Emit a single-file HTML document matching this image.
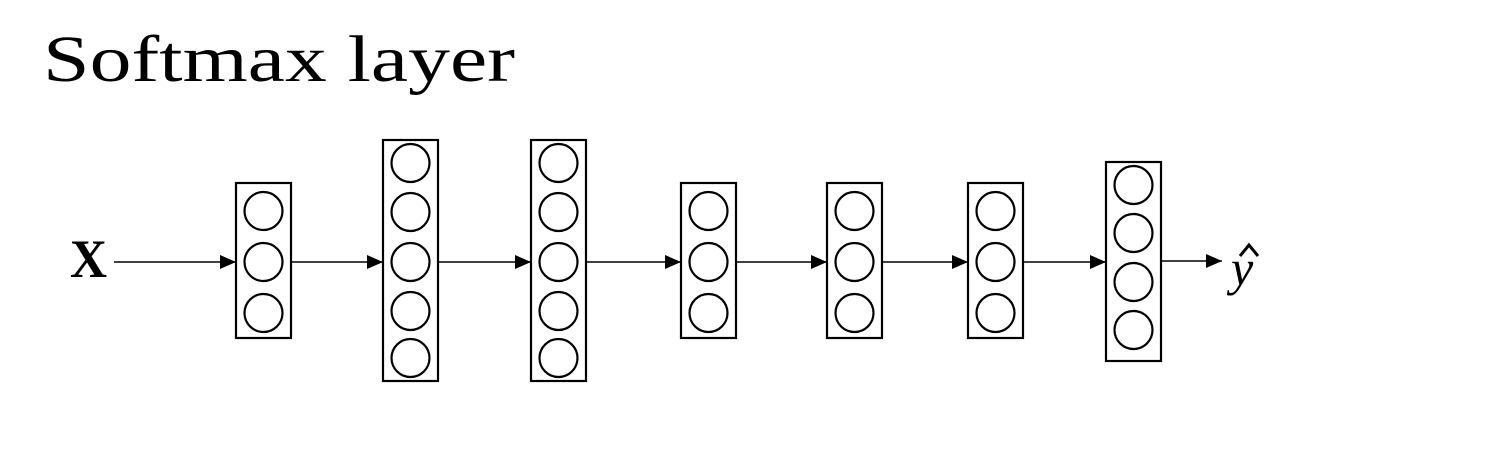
<!DOCTYPE html>
<html><head><meta charset="utf-8"><style>
html,body{margin:0;padding:0;background:#fff;}
svg{display:block;}
</style></head><body>
<svg width="1490" height="452" xmlns="http://www.w3.org/2000/svg">
<defs>
<marker id="ah" markerWidth="16" markerHeight="14" refX="16" refY="7" orient="auto" markerUnits="userSpaceOnUse">
<path d="M0,0 L16,7 L0,14 Z" fill="#000"/>
</marker>
</defs>
<text x="43" y="81" font-family="Liberation Serif, serif" font-size="66" textLength="472" lengthAdjust="spacingAndGlyphs">Softmax layer</text>
<text x="70" y="277" font-family="Liberation Serif, serif" font-size="54" font-weight="bold" textLength="37" lengthAdjust="spacingAndGlyphs">X</text>
<text x="1231" y="285" font-family="Liberation Serif, serif" font-size="50" font-style="italic">y</text>
<path d="M1240,256 L1249,245 L1258,256" stroke="#000" stroke-width="3" fill="none"/>
<g stroke="#000" stroke-width="2.2" fill="none">
<rect x="236" y="183" width="55" height="155"/>
<circle cx="263.5" cy="211" r="19"/><circle cx="263.5" cy="262" r="19"/><circle cx="263.5" cy="313" r="19"/>
<rect x="383" y="140" width="55" height="241"/>
<circle cx="410.5" cy="163" r="19"/><circle cx="410.5" cy="212" r="19"/><circle cx="410.5" cy="262" r="19"/><circle cx="410.5" cy="311" r="19"/><circle cx="410.5" cy="358" r="19"/>
<rect x="531" y="140" width="55" height="241"/>
<circle cx="558.5" cy="163" r="19"/><circle cx="558.5" cy="212" r="19"/><circle cx="558.5" cy="262" r="19"/><circle cx="558.5" cy="311" r="19"/><circle cx="558.5" cy="358" r="19"/>
<rect x="681" y="183" width="55" height="155"/>
<circle cx="708.5" cy="211" r="19"/><circle cx="708.5" cy="262" r="19"/><circle cx="708.5" cy="313" r="19"/>
<rect x="827" y="183" width="55" height="155"/>
<circle cx="854.5" cy="211" r="19"/><circle cx="854.5" cy="262" r="19"/><circle cx="854.5" cy="313" r="19"/>
<rect x="968" y="183" width="55" height="155"/>
<circle cx="995.5" cy="211" r="19"/><circle cx="995.5" cy="262" r="19"/><circle cx="995.5" cy="313" r="19"/>
<rect x="1106" y="162" width="55" height="199"/>
<circle cx="1133.5" cy="185" r="19"/><circle cx="1133.5" cy="233" r="19"/><circle cx="1133.5" cy="282" r="19"/><circle cx="1133.5" cy="330" r="19"/>
</g>
<g stroke="#000" stroke-width="1.5" marker-end="url(#ah)">
<line x1="114" y1="262" x2="236" y2="262"/>
<line x1="291" y1="262" x2="383" y2="262"/>
<line x1="438" y1="262" x2="531" y2="262"/>
<line x1="586" y1="262" x2="681" y2="262"/>
<line x1="736" y1="262" x2="827" y2="262"/>
<line x1="882" y1="262" x2="968" y2="262"/>
<line x1="1023" y1="262" x2="1106" y2="262"/>
<line x1="1161" y1="261" x2="1222" y2="261"/>
</g>
</svg>
</body></html>
